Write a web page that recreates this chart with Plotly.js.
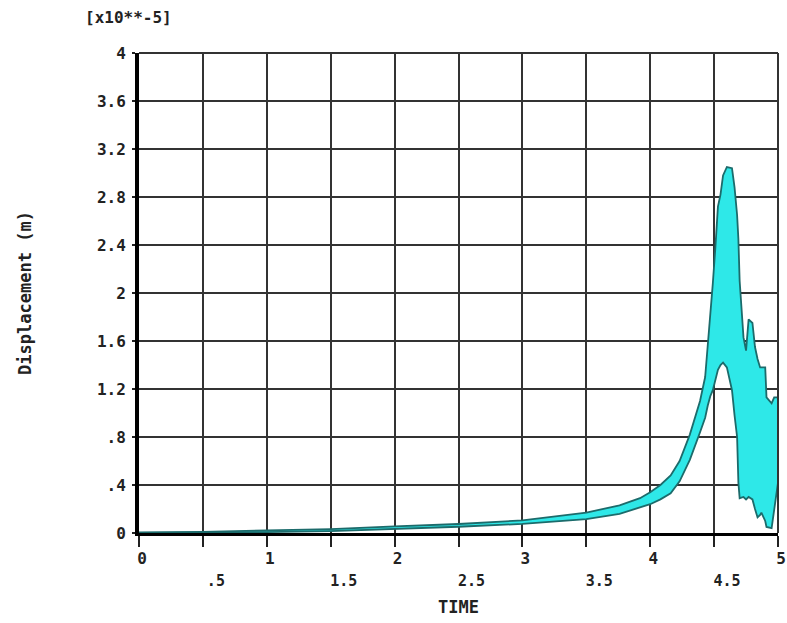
<!DOCTYPE html>
<html>
<head>
<meta charset="utf-8">
<script src="https://cdn.plot.ly/plotly-3.0.1.min.js"></script>
<style>html,body{margin:0;padding:0;background:#fff;}#chart{width:787px;height:623px;}</style>
</head>
<body>
<div id="chart"></div>
<script>
// Time values (s) at which the envelope of the oscillating displacement was read
const time = [0, 0.5, 1.0, 1.5, 2.0, 2.5, 3.0, 3.5, 3.76, 3.92, 4.0, 4.08, 4.16, 4.23, 4.31, 4.39, 4.43, 4.45, 4.47, 4.49, 4.51, 4.53, 4.55, 4.57, 4.60, 4.64, 4.66, 4.68, 4.69, 4.70, 4.73, 4.75, 4.77, 4.80, 4.82, 4.84, 4.86, 4.87, 4.90, 4.91, 4.95, 4.97, 5.0];
// Upper envelope of displacement (x10**-5 m)
const upperDisp = [0.006, 0.01, 0.022, 0.033, 0.055, 0.075, 0.105, 0.17, 0.23, 0.29, 0.34, 0.40, 0.48, 0.60, 0.82, 1.10, 1.30, 1.55, 1.78, 2.08, 2.38, 2.72, 2.82, 2.98, 3.05, 3.04, 2.88, 2.65, 2.45, 2.10, 1.63, 1.52, 1.78, 1.75, 1.55, 1.45, 1.38, 1.38, 1.38, 1.13, 1.08, 1.13, 1.13];
// Lower envelope of displacement (x10**-5 m)
const lowerDisp = [0.0, 0.002, 0.008, 0.015, 0.033, 0.052, 0.076, 0.115, 0.16, 0.21, 0.24, 0.28, 0.33, 0.43, 0.61, 0.84, 0.96, 1.06, 1.14, 1.19, 1.27, 1.36, 1.40, 1.42, 1.38, 1.19, 0.98, 0.80, 0.42, 0.29, 0.30, 0.28, 0.30, 0.28, 0.20, 0.13, 0.15, 0.17, 0.10, 0.05, 0.04, 0.19, 0.42];

const yTickVals = [0, 0.4, 0.8, 1.2, 1.6, 2.0, 2.4, 2.8, 3.2, 3.6, 4.0];
const yTickText = ['0', '.4', '.8', '1.2', '1.6', '2', '2.4', '2.8', '3.2', '3.6', '4'];
const xIntVals = [0, 1, 2, 3, 4, 5];
const xIntText = ['0', '1', '2', '3', '4', '5'];
const xHalfVals = [0.5, 1.5, 2.5, 3.5, 4.5];
const xHalfText = ['.5', '1.5', '2.5', '3.5', '4.5'];
const xTickVals = [0, 0.5, 1, 1.5, 2, 2.5, 3, 3.5, 4, 4.5, 5];

const edge = '#1c6b6b';
const fill = '#2ee8e8';
const font = 'DejaVu Sans Mono, monospace';
const tf = {family: font, size: 16, color: '#222', weight: 'bold'};

const traces = [
  {x: time, y: lowerDisp, type: 'scatter', mode: 'lines',
   line: {color: edge, width: 1.8}, hoverinfo: 'skip', showlegend: false},
  {x: time, y: upperDisp, type: 'scatter', mode: 'lines', fill: 'tonexty', fillcolor: fill,
   line: {color: edge, width: 1.8}, hoverinfo: 'skip', showlegend: false},
  {x: xHalfVals, y: xHalfVals.map(() => null), xaxis: 'x2', yaxis: 'y', type: 'scatter',
   mode: 'lines', hoverinfo: 'skip', showlegend: false}
];

const layout = {
  width: 787, height: 623,
  paper_bgcolor: '#fff', plot_bgcolor: '#fff',
  margin: {l: 139, r: 9, t: 53, b: 90},
  font: {family: font, color: '#222', size: 16},
  xaxis: {
    range: [0, 5], tickvals: xTickVals,
    ticktext: xTickVals.map(v => (Number.isInteger(v) ? xIntText[xIntVals.indexOf(v)] : '')),
    ticks: 'outside', ticklen: 11, tickwidth: 2, tickcolor: '#222',
    showgrid: true, gridcolor: '#333', gridwidth: 2,
    showline: true, linecolor: '#000', linewidth: 3,
    zeroline: false, ticklabelstandoff: -2, ticklabelshift: 3,
    ticklabeloverflow: 'allow',
    tickfont: tf,
    title: {text: 'TIME', font: {family: font, size: 17, color: '#222', weight: 'bold'}, standoff: 34}
  },
  xaxis2: {
    overlaying: 'x', anchor: 'y', side: 'bottom', range: [0, 5],
    tickvals: xHalfVals, ticktext: xHalfText, ticks: '', showgrid: false,
    showline: false, zeroline: false, ticklabelstandoff: 37, ticklabelshift: 13,
    tickfont: {family: font, size: 15, color: '#222', weight: 'bold'}
  },
  yaxis: {
    range: [0, 4], tickvals: yTickVals, ticktext: yTickText,
    ticks: 'outside', ticklen: 3, tickwidth: 2, tickcolor: '#222',
    showgrid: true, gridcolor: '#333', gridwidth: 2,
    showline: true, linecolor: '#000', linewidth: 4,
    zeroline: false, ticklabelstandoff: 3,
    tickfont: tf,
    title: {text: 'Displacement (m)', font: {family: font, size: 17, color: '#222', weight: 'bold'}, standoff: 62}
  },
  shapes: [
    {type: 'line', xref: 'paper', yref: 'paper', x0: 0, x1: 1, y0: 1, y1: 1, line: {color: '#333', width: 2}},
    {type: 'line', xref: 'paper', yref: 'paper', x0: 1, x1: 1, y0: 0, y1: 1, line: {color: '#333', width: 2}}
  ],
  annotations: [
    {text: '[x10**-5]', xref: 'paper', yref: 'paper', x: -0.016, y: 1.073,
     xanchor: 'center', yanchor: 'middle', showarrow: false,
     font: {family: font, size: 16, color: '#222', weight: 'bold'}}
  ]
};

Plotly.newPlot('chart', traces, layout, {staticPlot: true, displayModeBar: false});
</script>
</body>
</html>
